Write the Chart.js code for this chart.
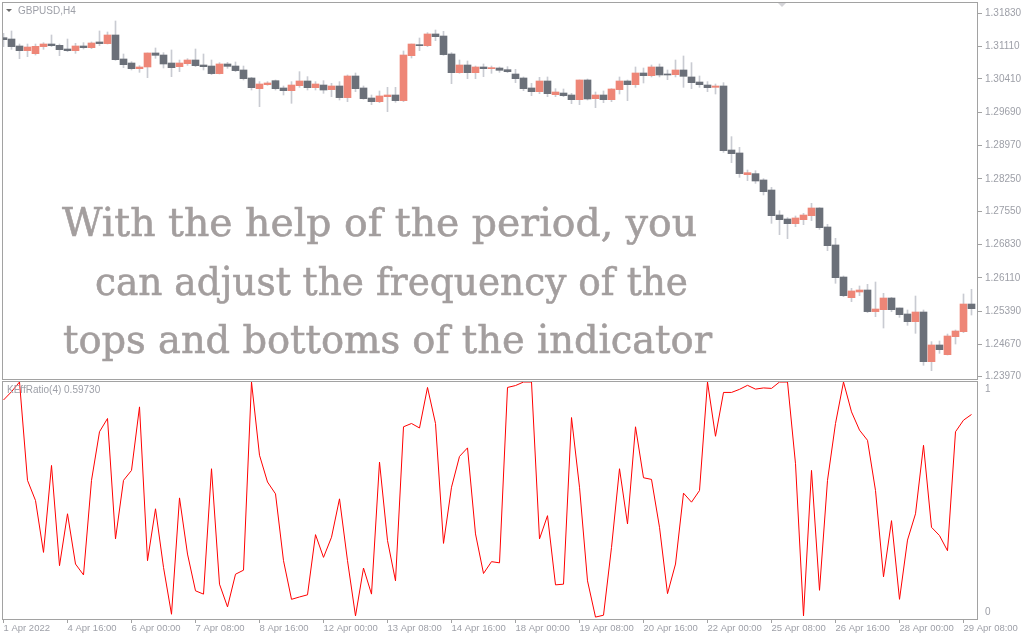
<!DOCTYPE html>
<html>
<head>
<meta charset="utf-8">
<script src="https://cdn.jsdelivr.net/npm/chart.js@4.4.1/dist/chart.umd.min.js"></script>
<style>
  html, body { margin: 0; padding: 0; background: #ffffff; }
  #wrap { position: relative; width: 1024px; height: 640px; overflow: hidden; font-family: "Liberation Sans", Arial, sans-serif; }
  #priceCanvas { position: absolute; left: 0; top: 0; }
  #ratioCanvas { position: absolute; left: 0; top: 380px; }
  .lbl { position: absolute; white-space: nowrap; color: #9ea0a8; font-size: 10px; line-height: 10px; }
  .tri { position: absolute; width: 0; height: 0; border-left: 3px solid transparent; border-right: 3px solid transparent; }
  .note { position: absolute; white-space: nowrap; font-family: "DejaVu Serif", serif; font-size: 40px; line-height: 40px; color: #a39e9e; -webkit-text-stroke: 0.6px #a39e9e; transform-origin: 0 0; }
</style>
</head>
<body>
<div id="wrap">
  <canvas id="priceCanvas" width="1024" height="380"></canvas>
  <canvas id="ratioCanvas" width="1024" height="260"></canvas>
  <div class="tri" style="left:6px; top:9px; border-top:3px solid #6a6a6a;"></div>
  <div class="lbl" style="left:18px; top:6px;">GBPUSD,H4</div>
  <div class="tri" style="left:778px; top:3px; border-left-width:4px; border-right-width:4px; border-top:4px solid #d4d4d8;"></div>
  <div class="lbl" style="left:7px; top:385px;">KEffRatio(4) 0.59730</div>
  <div class="note" data-w="635" style="left:62px; top:202px;">With the help of the period, you</div>
  <div class="note" data-w="593" style="left:95px; top:261px;">can adjust the frequency of the</div>
  <div class="note" data-w="649" style="left:63px; top:319px;">tops and bottoms of the indicator</div>
</div>
<script>
// GBPUSD H4 bars, 1 Apr 08:00 .. 29 Apr 12:00
const openP = [
  1.31303, 1.31274, 1.31123, 1.31022, 1.30957, 1.31109, 1.31166, 1.31137, 1.31058, 1.31022,
  1.31123, 1.31087, 1.31210, 1.31174, 1.31361, 1.30842, 1.30755, 1.30633, 1.30669, 1.30972,
  1.30928, 1.30755, 1.30676, 1.30741, 1.30820, 1.30712, 1.30690, 1.30525, 1.30734, 1.30690,
  1.30604, 1.30431, 1.30200, 1.30287, 1.30373, 1.30215, 1.30157, 1.30265, 1.30366, 1.30222,
  1.30279, 1.30179, 1.30258, 1.30006, 1.30474, 1.30215, 1.29998, 1.29919, 1.30027, 1.30063,
  1.29941, 1.30914, 1.31152, 1.31130, 1.31383, 1.31339, 1.30950, 1.30546, 1.30712, 1.30546,
  1.30669, 1.30633, 1.30647, 1.30611, 1.30517, 1.30431, 1.30215, 1.30135, 1.30366, 1.30070,
  1.30106, 1.30063, 1.29962, 1.30388, 1.29984, 1.30063, 1.29962, 1.30179, 1.30366, 1.30287,
  1.30539, 1.30481, 1.30669, 1.30517, 1.30503, 1.30604, 1.30453, 1.30344, 1.30279, 1.30229,
  1.30258, 1.28873, 1.28809, 1.28340, 1.28362, 1.28225, 1.28008, 1.27467, 1.27381, 1.27280,
  1.27366, 1.27453, 1.27619, 1.27208, 1.26819, 1.26126, 1.25679, 1.25802, 1.25845, 1.25377,
  1.25420, 1.25672, 1.25456, 1.25326, 1.25160, 1.25369, 1.24295, 1.24656, 1.24446, 1.24836,
  1.24944, 1.25542
];
const highP = [
  1.31397, 1.31448, 1.31166, 1.31166, 1.31166, 1.31195, 1.31361, 1.31166, 1.31274, 1.31181,
  1.31195, 1.31210, 1.31448, 1.31426, 1.31664, 1.30950, 1.30784, 1.30698, 1.30972, 1.31080,
  1.30979, 1.31037, 1.30820, 1.30849, 1.31058, 1.30950, 1.30820, 1.30763, 1.30770, 1.30777,
  1.30690, 1.30445, 1.30352, 1.30352, 1.30388, 1.30258, 1.30352, 1.30568, 1.30460, 1.30352,
  1.30373, 1.30316, 1.30352, 1.30496, 1.30539, 1.30258, 1.30063, 1.30150, 1.30229, 1.30229,
  1.31015, 1.31166, 1.31296, 1.31412, 1.31469, 1.31440, 1.30979, 1.30820, 1.30799, 1.30690,
  1.30734, 1.30690, 1.30669, 1.30676, 1.30618, 1.30453, 1.30316, 1.30445, 1.30453, 1.30200,
  1.30193, 1.30099, 1.30388, 1.30409, 1.30128, 1.30150, 1.30200, 1.30453, 1.30388, 1.30669,
  1.30647, 1.30712, 1.30734, 1.30604, 1.30820, 1.30907, 1.30763, 1.30474, 1.30352, 1.30301,
  1.30330, 1.29162, 1.28931, 1.28441, 1.28426, 1.28253, 1.28066, 1.27561, 1.27410, 1.27446,
  1.27504, 1.27720, 1.27626, 1.27266, 1.26963, 1.26148, 1.25881, 1.25932, 1.25968, 1.26018,
  1.25773, 1.25687, 1.25456, 1.25413, 1.25715, 1.25413, 1.24728, 1.24742, 1.24893, 1.24980,
  1.25759, 1.25860
];
const lowP = [
  1.31109, 1.31051, 1.30849, 1.30892, 1.30928, 1.31051, 1.31109, 1.30914, 1.31000, 1.30964,
  1.31058, 1.31065, 1.31130, 1.31166, 1.30813, 1.30654, 1.30604, 1.30553, 1.30438, 1.30856,
  1.30647, 1.30460, 1.30568, 1.30705, 1.30676, 1.30604, 1.30503, 1.30517, 1.30640, 1.30568,
  1.30388, 1.30171, 1.29811, 1.30272, 1.30171, 1.30063, 1.29883, 1.30229, 1.30171, 1.30171,
  1.30099, 1.30027, 1.29955, 1.29919, 1.30135, 1.29970, 1.29854, 1.29897, 1.29703, 1.29905,
  1.29919, 1.30863, 1.31022, 1.31109, 1.31238, 1.30921, 1.30308, 1.30532, 1.30416, 1.30416,
  1.30460, 1.30532, 1.30553, 1.30546, 1.30330, 1.30157, 1.30049, 1.30092, 1.30027, 1.30027,
  1.30027, 1.29876, 1.29854, 1.29955, 1.29789, 1.29897, 1.29919, 1.30085, 1.29941, 1.30229,
  1.30323, 1.30453, 1.30453, 1.30395, 1.30453, 1.30229, 1.30200, 1.30229, 1.30135, 1.30085,
  1.28823, 1.28599, 1.28282, 1.28210, 1.28152, 1.27900, 1.27287, 1.27042, 1.26956, 1.27215,
  1.27258, 1.27345, 1.27157, 1.26696, 1.25990, 1.25701, 1.25593, 1.25723, 1.25355, 1.25268,
  1.25023, 1.25377, 1.25254, 1.25081, 1.24908, 1.24216, 1.24100, 1.24475, 1.24439, 1.24677,
  1.24922, 1.25304
];
const closeP = [
  1.31260, 1.31109, 1.31022, 1.31101, 1.31116, 1.31166, 1.31130, 1.31044, 1.31022, 1.31123,
  1.31087, 1.31188, 1.31174, 1.31361, 1.30827, 1.30719, 1.30633, 1.30669, 1.30972, 1.30921,
  1.30734, 1.30654, 1.30755, 1.30820, 1.30698, 1.30676, 1.30525, 1.30734, 1.30683, 1.30590,
  1.30416, 1.30222, 1.30301, 1.30323, 1.30200, 1.30157, 1.30279, 1.30366, 1.30222, 1.30301,
  1.30171, 1.30258, 1.30006, 1.30474, 1.30200, 1.29984, 1.29919, 1.30042, 1.30063, 1.29941,
  1.30928, 1.31166, 1.31130, 1.31383, 1.31325, 1.30936, 1.30546, 1.30712, 1.30546, 1.30669,
  1.30633, 1.30654, 1.30597, 1.30568, 1.30416, 1.30200, 1.30135, 1.30366, 1.30092, 1.30128,
  1.30049, 1.29962, 1.30388, 1.29977, 1.30063, 1.29962, 1.30193, 1.30366, 1.30287, 1.30539,
  1.30481, 1.30669, 1.30496, 1.30496, 1.30604, 1.30467, 1.30330, 1.30287, 1.30222, 1.30258,
  1.28859, 1.28794, 1.28362, 1.28383, 1.28203, 1.27972, 1.27453, 1.27366, 1.27280, 1.27403,
  1.27467, 1.27619, 1.27193, 1.26804, 1.26112, 1.25723, 1.25824, 1.25845, 1.25377, 1.25434,
  1.25672, 1.25420, 1.25312, 1.25160, 1.25369, 1.24295, 1.24656, 1.24555, 1.24850, 1.24958,
  1.25542, 1.25441
];
// Kaufman efficiency ratio, period 4
const effRatio = [
  0.924, 0.959, 1.000, 0.585, 0.500, 0.281, 0.648, 0.225, 0.444, 0.232,
  0.186, 0.585, 0.790, 0.846, 0.338, 0.585, 0.627, 0.895, 0.246, 0.465,
  0.218, 0.020, 0.511, 0.274, 0.119, 0.105, 0.634, 0.147, 0.051, 0.189,
  0.206, 1.000, 0.691, 0.578, 0.528, 0.246, 0.083, 0.093, 0.102, 0.356,
  0.260, 0.345, 0.507, 0.246, 0.013, 0.215, 0.105, 0.662, 0.331, 0.161,
  0.811, 0.825, 0.806, 0.977, 0.825, 0.319, 0.556, 0.686, 0.722, 0.359,
  0.192, 0.242, 0.237, 0.977, 0.985, 1.000, 1.000, 0.338, 0.436, 0.144,
  0.147, 0.850, 0.556, 0.161, 0.008, 0.016, 0.302, 0.634, 0.401, 0.811,
  0.596, 0.589, 0.387, 0.107, 0.232, 0.531, 0.493, 0.542, 1.000, 0.771,
  0.956, 0.956, 0.969, 0.986, 0.970, 0.975, 0.973, 1.000, 1.000, 0.655,
  0.013, 0.627, 0.121, 0.585, 0.825, 1.000, 0.874, 0.797, 0.754, 0.542,
  0.178, 0.415, 0.083, 0.333, 0.444, 0.733, 0.387, 0.352, 0.288, 0.790,
  0.839, 0.863
];

// Axis ticks
const priceTicks = [1.31830, 1.31110, 1.30410, 1.29690, 1.28970, 1.28250, 1.27550, 1.26830, 1.26110, 1.25390, 1.24670, 1.23970];
const timeTickBars = [0, 8, 16, 24, 32, 40, 48, 56, 64, 72, 80, 88, 96, 104, 112, 120];
const timeLabels = ['1 Apr 2022', '4 Apr 16:00', '6 Apr 00:00', '7 Apr 08:00', '8 Apr 16:00', '12 Apr 00:00',
  '13 Apr 08:00', '14 Apr 16:00', '18 Apr 00:00', '19 Apr 08:00', '20 Apr 16:00', '22 Apr 00:00',
  '25 Apr 08:00', '26 Apr 16:00', '28 Apr 00:00', '29 Apr 08:00'];
const ratioLevels = [1, 0];

// Colours
const upColor = '#ee8677';
const downColor = '#6b7079';
const wickColor = '#c9cbd2';
const frameColor = '#a2a2a2';
const textColor = '#9ea0a8';
const labelFont = { family: 'Liberation Sans', size: 10 };

// 8 px per bar, shared by both panes
const xMin = -0.0625;
const xMax = 121.8125;

const barIdx = closeP.map((_, i) => i);

// squeeze each caption line to the width it has in the screenshot
document.querySelectorAll('.note').forEach(el => {
    const w = el.getBoundingClientRect().width;
    el.style.transform = 'scaleX(' + (Number(el.dataset.w) / w) + ')';
});

// pane border
const framePlugin = {
    id: 'frame',
    afterDraw(chart) {
        const a = chart.chartArea;
        const ctx = chart.ctx;
        ctx.save();
        ctx.strokeStyle = frameColor;
        ctx.lineWidth = 1;
        ctx.strokeRect(Math.floor(a.left) - 0.5, Math.floor(a.top) - 0.5,
            Math.round(a.right - a.left), Math.round(a.bottom - a.top) + 1);
        ctx.restore();
    }
};

// "1" / "0" labels of the indicator pane, drawn just inside the pane
const levelLabels = {
    id: 'levelLabels',
    afterDraw(chart) {
        const y = chart.scales.y;
        const ctx = chart.ctx;
        ctx.save();
        ctx.fillStyle = textColor;
        ctx.font = '10px "Liberation Sans"';
        ctx.textBaseline = 'middle';
        ctx.textAlign = 'left';
        ratioLevels.forEach(v => {
            const py = y.getPixelForValue(v) + (v === 1 ? 7 : -7);
            ctx.fillText(String(v), chart.chartArea.right + 7, py);
        });
        ctx.restore();
    }
};

new Chart(document.getElementById('priceCanvas'), {
    type: 'bar',
    data: {
        datasets: [
            {
                label: 'body',
                data: barIdx.map(i => ({ x: i, y: [openP[i], closeP[i]] })),
                backgroundColor: barIdx.map(i => closeP[i] >= openP[i] ? upColor : downColor),
                barThickness: 7,
                minBarLength: 1,
                grouped: false
            },
            {
                label: 'wick',
                data: barIdx.map(i => ({ x: i, y: [lowP[i], highP[i]] })),
                backgroundColor: wickColor,
                barThickness: 1,
                grouped: false
            }
        ]
    },
    options: {
        responsive: false,
        animation: false,
        layout: { padding: { left: 3, top: 3, right: 0, bottom: 1 } },
        plugins: { legend: { display: false }, tooltip: { enabled: false } },
        scales: {
            x: { type: 'linear', min: xMin, max: xMax, offset: false, display: false },
            y: {
                position: 'right',
                min: 1.2392,
                max: 1.32053,
                afterFit(scale) {
                    scale.width = 46;
                    scale.paddingTop = 0;
                    scale.paddingBottom = 0;
                },
                afterBuildTicks(scale) { scale.ticks = priceTicks.map(v => ({ value: v })); },
                grid: { drawOnChartArea: false, tickLength: 4, color: frameColor },
                border: { display: false },
                ticks: {
                    autoSkip: false,
                    padding: 3,
                    color: textColor,
                    font: labelFont,
                    callback: v => v.toFixed(5)
                }
            }
        }
    },
    plugins: [framePlugin]
});

new Chart(document.getElementById('ratioCanvas'), {
    type: 'line',
    data: {
        datasets: [{
            label: 'KEffRatio(4)',
            data: effRatio.map((v, i) => ({ x: i, y: v })),
            borderColor: '#ff0000',
            borderWidth: 1,
            pointRadius: 0,
            tension: 0,
            fill: false
        }]
    },
    options: {
        responsive: false,
        animation: false,
        layout: { padding: { left: 3, top: 2, right: 0, bottom: 0 } },
        plugins: { legend: { display: false }, tooltip: { enabled: false } },
        scales: {
            x: {
                type: 'linear',
                min: xMin,
                max: xMax,
                offset: false,
                afterFit(scale) {
                    scale.height = 21;
                    scale.paddingLeft = 0;
                    scale.paddingRight = 0;
                },
                afterBuildTicks(scale) { scale.ticks = timeTickBars.map(v => ({ value: v })); },
                grid: { drawOnChartArea: false, tickLength: 4, color: frameColor },
                border: { display: false },
                ticks: {
                    autoSkip: false,
                    maxRotation: 0,
                    align: 'start',
                    padding: 0,
                    color: textColor,
                    font: { family: 'Liberation Sans', size: 9.5 },
                    callback: (v, k) => timeLabels[k]
                }
            },
            y: {
                position: 'right',
                min: 0,
                max: 1,
                afterFit(scale) { scale.width = 46; },
                grid: { display: false },
                border: { display: false },
                ticks: { display: false }
            }
        }
    },
    plugins: [framePlugin, levelLabels]
});
</script>
</body>
</html>
